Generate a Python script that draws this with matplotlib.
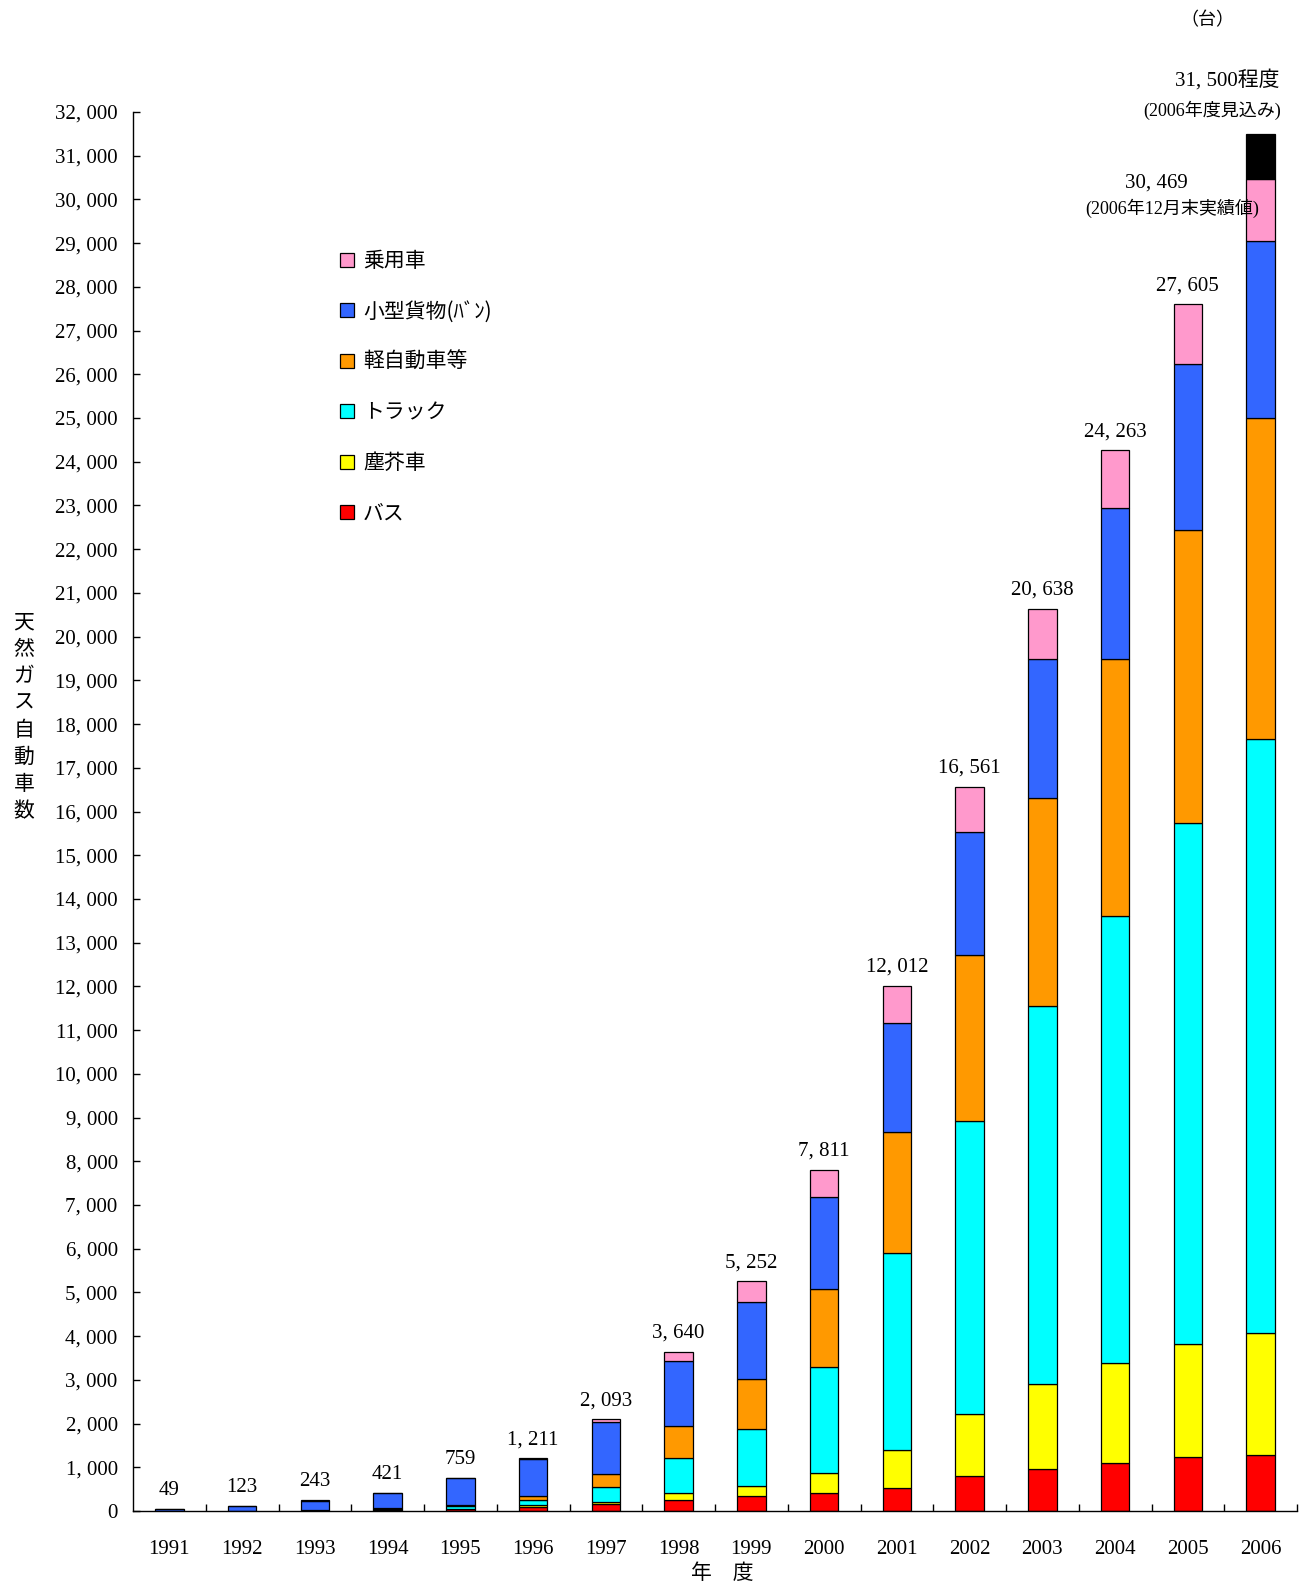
""" Natural gas vehicle count by fiscal year, stacked by vehicle type. """

import matplotlib
matplotlib.use('Agg')
import matplotlib.pyplot as plt
from matplotlib.patches import Patch
from matplotlib.ticker import FuncFormatter, FixedLocator


""" Data """

years = ['1991', '1992', '1993', '1994', '1995', '1996', '1997', '1998',
         '1999', '2000', '2001', '2002', '2003', '2004', '2005', '2006']

bus = [0, 0, 10, 30, 40, 90, 150, 250, 345, 405, 535, 790, 950, 1090, 1230, 1270]
dust = [0, 0, 0, 10, 15, 45, 65, 170, 225, 470, 850, 1430, 1950, 2300, 2588, 2802]
truck = [0, 0, 10, 20, 70, 115, 330, 790, 1295, 2410, 4505, 6690, 8640, 10215, 11915, 13582]
kei = [0, 0, 0, 5, 10, 90, 300, 730, 1160, 1790, 2772, 3800, 4772, 5877, 6710, 7358]
van = [49, 123, 213, 346, 614, 850, 1200, 1480, 1755, 2110, 2502, 2815, 3170, 3470, 3795, 4048]
car = [0, 0, 10, 10, 10, 21, 48, 220, 472, 626, 848, 1036, 1156, 1311, 1367, 1409]

totals = [49, 123, 243, 421, 759, 1211, 2093, 3640, 5252, 7811,
          12012, 16561, 20638, 24263, 27605, 30469]
forecast_2006 = 31500

series = [
    ('バス', bus, '#FF0000'),
    ('塵芥車', dust, '#FFFF00'),
    ('トラック', truck, '#00FFFF'),
    ('軽自動車等', kei, '#FF9900'),
    ('小型貨物(ﾊﾞﾝ)', van, '#3366FF'),
    ('乗用車', car, '#FF99CC'),
]

SERIF = ['Liberation Serif', 'Noto Sans CJK JP']
GOTHIC = ['Noto Sans CJK JP', 'DejaVu Sans']


def fmt_num(v):
    """ 12345 -> '12, 345' like the original sheet. """
    return f'{int(v):,}'.replace(',', ', ')


""" Plot """

fig = plt.figure(figsize=(13.09, 15.87), dpi=100)
ax = fig.add_axes([133 / 1309, 76 / 1587, 1164 / 1309, 1399 / 1587])

x = list(range(len(years)))
width = 0.39
bottom = [0] * len(years)
for name, vals, color in series:
    ax.bar(x, vals, width, bottom=bottom, color=color,
           edgecolor='black', linewidth=0.9, label=name)
    bottom = [b + v for b, v in zip(bottom, vals)]

# 2006 forecast part (black)
last = len(years) - 1
ax.bar([last], [forecast_2006 - totals[last]], width, bottom=[totals[last]],
       color='black', edgecolor='black', linewidth=0.9)

ax.set_xlim(-0.5, len(years) - 0.5)
ax.set_ylim(0, 32000)

ax.spines['top'].set_visible(False)
ax.spines['right'].set_visible(False)
ax.spines['left'].set_linewidth(1.0)
ax.spines['bottom'].set_linewidth(1.0)

ax.set_yticks(range(0, 32001, 1000))
ax.yaxis.set_major_formatter(FuncFormatter(lambda v, p: fmt_num(v)))
ax.tick_params(axis='y', direction='in', length=5, width=1, pad=11)

ax.set_xticks(x)
ax.set_xticklabels(years)
ax.xaxis.set_minor_locator(FixedLocator([i + 0.5 for i in x]))
ax.tick_params(axis='x', which='major', length=0, pad=21)
ax.tick_params(axis='x', which='minor', direction='in', length=5, width=1)

for lab in ax.get_xticklabels() + ax.get_yticklabels():
    lab.set_fontfamily(SERIF)
    lab.set_fontsize(15)

# totals above bars (2006 gets its own annotation)
for i in x[:-1]:
    ax.annotate(fmt_num(totals[i]), (i, totals[i]), xytext=(0, 9),
                textcoords='offset pixels', ha='center', va='bottom',
                fontsize=15, family=SERIF)

ax.annotate(fmt_num(forecast_2006) + '程度', (last, forecast_2006), xytext=(19, 54),
            textcoords='offset pixels', ha='right', va='center',
            fontsize=15, family=SERIF)
ax.annotate('(2006年度見込み)', (last, forecast_2006), xytext=(20, 24),
            textcoords='offset pixels', ha='right', va='center',
            fontsize=13, family=SERIF)
ax.annotate(fmt_num(totals[last]), (last, totals[last]), xytext=(-104, -4),
            textcoords='offset pixels', ha='center', va='center',
            fontsize=15, family=SERIF)
ax.annotate('(2006年12月末実績値)', (last, totals[last]), xytext=(-88, -29),
            textcoords='offset pixels', ha='center', va='center',
            fontsize=13, family=SERIF)

fig.text(1207 / 1309, 1 - 20 / 1587, '（台）', ha='center', va='center',
         fontsize=13, family=GOTHIC)

# vertical y label, one character per line
ylab = '天然ガス自動車数'
for k, ch in enumerate(ylab):
    fig.text(24 / 1309, 1 - (622 + 27 * k) / 1587, ch, ha='center', va='center',
             fontsize=15, family=GOTHIC)

fig.text(722 / 1309, 1 - 1573 / 1587, '年　度', ha='center', va='center',
         fontsize=15, family=GOTHIC)

# legend, pink on top
handles = [Patch(facecolor=c, edgecolor='black', linewidth=0.9) for _, _, c in reversed(series)]
labels = [n for n, _, _ in reversed(series)]
ax.legend(handles, labels, loc='upper left',
          bbox_to_anchor=(340 / 1309, 1 - 250 / 1587), bbox_transform=fig.transFigure,
          frameon=False, prop={'family': GOTHIC, 'size': 15},
          handlelength=0.65, handleheight=0.65, handletextpad=0.45,
          labelspacing=1.37, borderpad=0, borderaxespad=0)

fig.savefig('out.png', dpi=100)
